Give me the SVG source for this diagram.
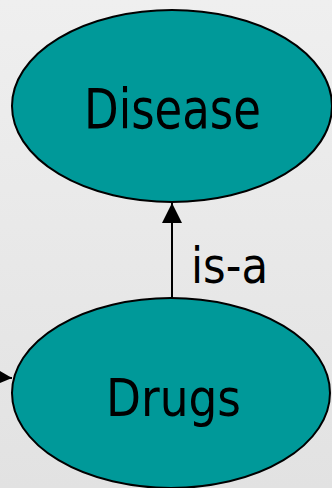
<svg xmlns="http://www.w3.org/2000/svg" width="332" height="488" viewBox="0 0 332 488">
  <defs>
    <linearGradient id="bg" x1="0" y1="0" x2="0" y2="1">
      <stop offset="0" stop-color="#efefef"/>
      <stop offset="1" stop-color="#e2e2e2"/>
    </linearGradient>
    <marker id="arrow" viewBox="0 0 20 20" refX="20" refY="10" markerWidth="20" markerHeight="20" markerUnits="userSpaceOnUse" orient="auto">
      <path d="M0,0 L20,10 L0,20 Z" fill="#000"/>
    </marker>
  </defs>
  <style>
    .node { fill: #009999; stroke: #000; stroke-width: 2; }
    .label { font-family: Tahoma, "DejaVu Sans", "Liberation Sans", sans-serif; fill: #000; }
    .edge { stroke: #000; stroke-width: 2; fill: none; }
  </style>
  <rect x="0" y="0" width="332" height="488" fill="url(#bg)"/>
  <g id="connectors">
    <line class="edge" x1="172" y1="298" x2="172" y2="203" marker-end="url(#arrow)"/>
    <line class="edge" x1="-20" y1="376" x2="12" y2="378" marker-end="url(#arrow)"/>
    <text class="label" x="191" y="283" font-size="50" textLength="77" lengthAdjust="spacingAndGlyphs">is-a</text>
  </g>
  <g id="disease">
    <ellipse class="node" cx="172" cy="106" rx="160" ry="96"/>
    <text class="label" x="84" y="128" font-size="55" textLength="177" lengthAdjust="spacingAndGlyphs">Disease</text>
  </g>
  <g id="drugs">
    <ellipse class="node" cx="171" cy="393" rx="159" ry="95"/>
    <text class="label" x="106" y="416" font-size="52" textLength="135" lengthAdjust="spacingAndGlyphs">Drugs</text>
  </g>
</svg>
